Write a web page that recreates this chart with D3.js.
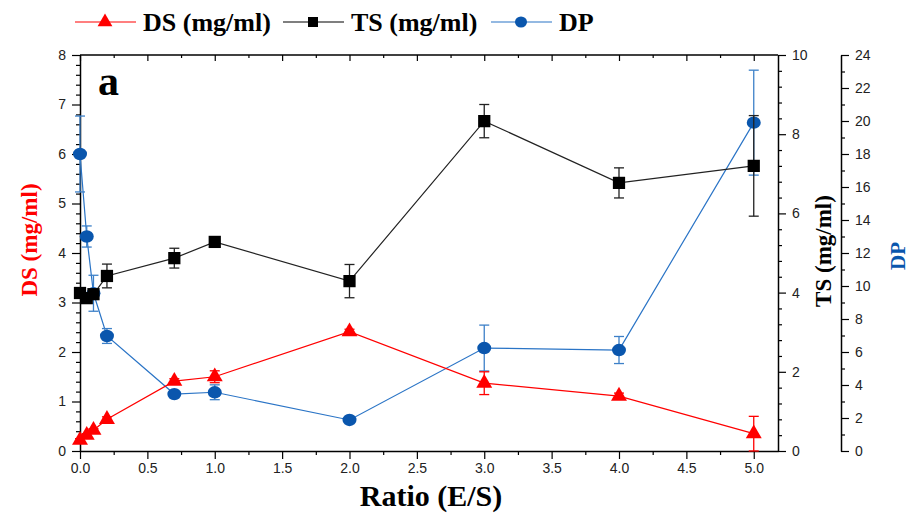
<!doctype html>
<html lang="en">
<head>
<meta charset="UTF-8">
<title>DS TS DP vs ratio</title>
<script src="https://d3js.org/d3.v7.min.js"></script>
<style>
  body { margin: 0; background: #fff; }
  .tick text { font-family: Arial, "Liberation Sans", sans-serif; font-size: 14px; fill: #222; }
  .ttl { font-family: "Liberation Serif", "Times New Roman", serif; font-weight: bold; }
</style>
</head>
<body>
<script>
  // data
  var ratio = [0, 0.05, 0.1, 0.2, 0.7, 1.0, 2.0, 3.0, 4.0, 5.0];
  var ds    = [0.22, 0.32, 0.42, 0.64, 1.41, 1.50, 2.41, 1.37, 1.11, 0.35];
  var dsErr = [0.03, 0.03, 0.03, 0.05, 0.05, 0.12, 0.05, 0.23, 0.06, 0.35];
  var ts    = [3.99, 3.86, 3.96, 4.42, 4.87, 5.28, 4.29, 8.33, 6.77, 7.20];
  var tsErr = [0.05, 0.1, 0.05, 0.3, 0.25, 0.05, 0.42, 0.42, 0.38, 1.27];
  var dp    = [18.0, 13.0, 9.56, 6.97, 3.45, 3.56, 1.88, 6.24, 6.12, 19.9];
  var dpErr = [2.3, 0.64, 1.09, 0.45, 0.1, 0.45, 0.1, 1.39, 0.82, 3.18];

  var xTicks = [0, 0.5, 1, 1.5, 2, 2.5, 3, 3.5, 4, 4.5, 5];
  var dsTicks = [0, 1, 2, 3, 4, 5, 6, 7, 8];
  var tsTicks = [0, 2, 4, 6, 8, 10];
  var dpTicks = [0, 2, 4, 6, 8, 10, 12, 14, 16, 18, 20, 22, 24];

  var W = 914, H = 513;
  var pL = 80, pR = 778, pT = 55, pB = 451;
  var dpAxisX = 841;

  var red = "#ff0000", blk = "#000000", blue = "#0a56ad", blueLine = "#2a74c6";

  var svg = d3.select("body").append("svg")
      .attr("width", W)
      .attr("height", H);

  var x = d3.scaleLinear().domain([0, 5.18]).range([pL, pR]);
  var yDS = d3.scaleLinear().domain([0, 8]).range([pB, pT]);
  var yTS = d3.scaleLinear().domain([0, 10]).range([pB, pT]);
  var yDP = d3.scaleLinear().domain([0, 24]).range([pB, pT]);

  function minors(step, max, skip) {
    var a = [];
    for (var v = 0; v <= max + 1e-9; v += step) {
      var r = Math.round(v * 1000) / 1000;
      if (Math.abs(r / skip - Math.round(r / skip)) > 1e-6) a.push(r);
    }
    return a;
  }

  function axisStyle(g) {
    g.select(".domain").attr("stroke", "#000").attr("stroke-width", 1.5);
    g.selectAll(".tick line").attr("stroke", "#000").attr("stroke-width", 1.2);
  }

  // frame: top line
  svg.append("line")
      .attr("x1", pL).attr("x2", pR).attr("y1", pT).attr("y2", pT)
      .attr("stroke", "#000").attr("stroke-width", 1.5);

  // bottom x axis
  var gx = svg.append("g").attr("transform", "translate(0," + pB + ")")
      .call(d3.axisBottom(x).tickValues(xTicks).tickFormat(d3.format(".1f")).tickSize(8).tickSizeOuter(0).tickPadding(4));
  axisStyle(gx);
  svg.append("g").attr("transform", "translate(0," + pB + ")")
      .call(d3.axisBottom(x).tickValues(minors(0.25, 5, 0.5)).tickFormat("").tickSize(4).tickSizeOuter(0))
      .call(function(g) { g.select(".domain").remove(); axisStyle(g); });

  // top inward ticks
  svg.append("g").attr("transform", "translate(0," + pT + ")")
      .call(d3.axisBottom(x).tickValues(xTicks).tickFormat("").tickSize(6).tickSizeOuter(0))
      .call(function(g) { g.select(".domain").remove(); axisStyle(g); });
  svg.append("g").attr("transform", "translate(0," + pT + ")")
      .call(d3.axisBottom(x).tickValues(minors(0.25, 5, 0.5)).tickFormat("").tickSize(3).tickSizeOuter(0))
      .call(function(g) { g.select(".domain").remove(); axisStyle(g); });

  // left DS axis
  var gl = svg.append("g").attr("transform", "translate(" + pL + ",0)")
      .call(d3.axisLeft(yDS).tickValues(dsTicks).tickFormat(d3.format("d")).tickSize(8).tickSizeOuter(0).tickPadding(6));
  axisStyle(gl);
  svg.append("g").attr("transform", "translate(" + pL + ",0)")
      .call(d3.axisLeft(yDS).tickValues(minors(0.2, 8, 1)).tickFormat("").tickSize(4).tickSizeOuter(0))
      .call(function(g) { g.select(".domain").remove(); axisStyle(g); });

  // right TS axis
  var gr = svg.append("g").attr("transform", "translate(" + pR + ",0)")
      .call(d3.axisRight(yTS).tickValues(tsTicks).tickFormat(d3.format("d")).tickSize(8).tickSizeOuter(0).tickPadding(6));
  axisStyle(gr);
  svg.append("g").attr("transform", "translate(" + pR + ",0)")
      .call(d3.axisRight(yTS).tickValues(minors(0.4, 10, 2)).tickFormat("").tickSize(4).tickSizeOuter(0))
      .call(function(g) { g.select(".domain").remove(); axisStyle(g); });

  // DP axis (offset)
  var gd = svg.append("g").attr("transform", "translate(" + dpAxisX + ",0)")
      .call(d3.axisRight(yDP).tickValues(dpTicks).tickFormat(d3.format("d")).tickSize(8).tickSizeOuter(0).tickPadding(6));
  axisStyle(gd);
  svg.append("g").attr("transform", "translate(" + dpAxisX + ",0)")
      .call(d3.axisRight(yDP).tickValues(minors(1, 24, 2)).tickFormat("").tickSize(4).tickSizeOuter(0))
      .call(function(g) { g.select(".domain").remove(); axisStyle(g); });

  // series
  function series(vals, errs, y, lineColor, errColor, markerColor, shape) {
    var pts = ratio.map(function(r, i) { return {x: r, y: vals[i], e: errs[i]}; });
    var g = svg.append("g");
    g.append("path").datum(pts)
        .attr("d", d3.line().x(function(d) { return x(d.x); }).y(function(d) { return y(d.y); }))
        .attr("fill", "none").attr("stroke", lineColor).attr("stroke-width", 1.2);
    var eb = g.selectAll(".eb").data(pts).enter().append("g").attr("stroke", errColor).attr("stroke-width", 1.3);
    eb.append("line")
        .attr("x1", function(d) { return x(d.x); }).attr("x2", function(d) { return x(d.x); })
        .attr("y1", function(d) { return y(d.y + d.e); }).attr("y2", function(d) { return y(d.y - d.e); });
    eb.append("line")
        .attr("x1", function(d) { return x(d.x) - 5; }).attr("x2", function(d) { return x(d.x) + 5; })
        .attr("y1", function(d) { return y(d.y + d.e); }).attr("y2", function(d) { return y(d.y + d.e); });
    eb.append("line")
        .attr("x1", function(d) { return x(d.x) - 5; }).attr("x2", function(d) { return x(d.x) + 5; })
        .attr("y1", function(d) { return y(d.y - d.e); }).attr("y2", function(d) { return y(d.y - d.e); });
    var m = g.selectAll(".m").data(pts).enter();
    if (shape === "circle") {
      m.append("ellipse").attr("cx", function(d) { return x(d.x); }).attr("cy", function(d) { return y(d.y); })
          .attr("rx", 7).attr("ry", 6.2).attr("fill", markerColor);
    } else {
      m.append("path")
          .attr("transform", function(d) { return "translate(" + x(d.x) + "," + y(d.y) + ")"; })
          .attr("d", d3.symbol().type(shape === "square" ? d3.symbolSquare : d3.symbolTriangle).size(shape === "square" ? 150 : 110))
          .attr("fill", markerColor);
    }
  }

  series(dp, dpErr, yDP, blueLine, "#3d80c8", blue, "circle");
  series(ts, tsErr, yTS, "#222", "#222", blk, "square");
  series(ds, dsErr, yDS, red, red, red, "triangle");

  // titles
  svg.append("text").attr("class", "ttl")
      .attr("x", 98).attr("y", 95).attr("font-size", 42).text("a");

  svg.append("text").attr("class", "ttl")
      .attr("x", 431).attr("y", 506).attr("text-anchor", "middle")
      .attr("font-size", 30).text("Ratio (E/S)");

  svg.append("text").attr("class", "ttl")
      .attr("transform", "translate(37,240) rotate(-90)").attr("text-anchor", "middle")
      .attr("font-size", 23).attr("fill", red).text("DS (mg/ml)");

  svg.append("text").attr("class", "ttl")
      .attr("transform", "translate(831,251) rotate(-90)").attr("text-anchor", "middle")
      .attr("font-size", 23).attr("fill", blk).text("TS (mg/ml)");

  svg.append("text").attr("class", "ttl")
      .attr("transform", "translate(905,256) rotate(-90)").attr("text-anchor", "middle")
      .attr("font-size", 21).attr("fill", blue).text("DP");

  // legend
  var legend = [
    {name: "DS (mg/ml)", color: red, shape: "triangle", x0: 75},
    {name: "TS (mg/ml)", color: blk, shape: "square", x0: 283},
    {name: "DP", color: blueLine, shape: "circle", x0: 491}
  ];
  var ly = 22;
  var lg = svg.selectAll(".leg").data(legend).enter().append("g");
  lg.append("line")
      .attr("x1", function(d) { return d.x0; }).attr("x2", function(d) { return d.x0 + 61; })
      .attr("y1", ly).attr("y2", ly)
      .attr("stroke", function(d) { return d.color; }).attr("stroke-width", 1.2);
  lg.each(function(d) {
    var g = d3.select(this);
    if (d.shape === "circle") {
      g.append("ellipse").attr("cx", d.x0 + 30).attr("cy", ly).attr("rx", 6).attr("ry", 5.5).attr("fill", blue);
    } else {
      g.append("path").attr("transform", "translate(" + (d.x0 + 30) + "," + ly + ")")
          .attr("d", d3.symbol().type(d.shape === "square" ? d3.symbolSquare : d3.symbolTriangle).size(d.shape === "square" ? 100 : 95))
          .attr("fill", d.color);
    }
  });
  lg.append("text").attr("class", "ttl")
      .attr("x", function(d) { return d.x0 + 68; }).attr("y", ly + 9)
      .attr("font-size", 26).attr("fill", "#000")
      .text(function(d) { return d.name; });
</script>
</body>
</html>
